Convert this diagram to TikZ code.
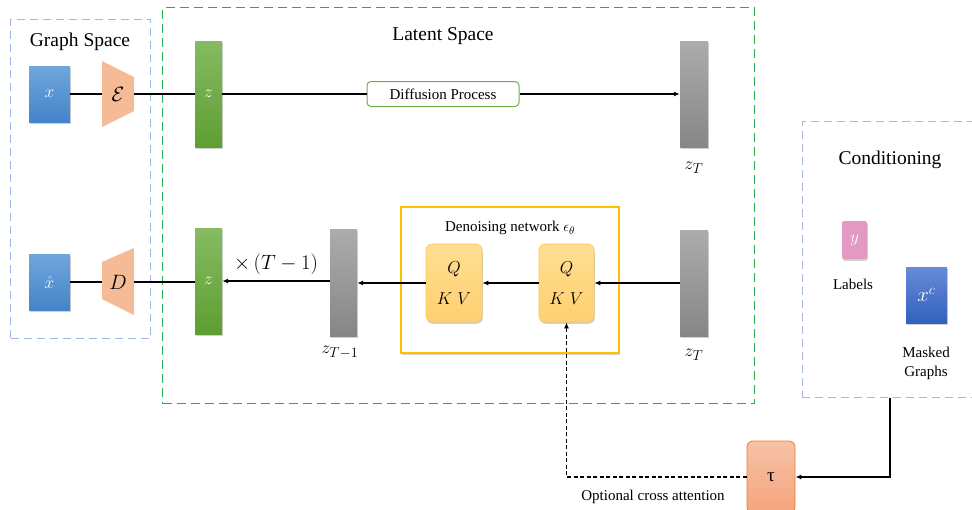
\documentclass[tikz,border=0pt]{standalone}
\usepackage{fontspec}
\setmainfont{Liberation Serif}
\usetikzlibrary{arrows.meta,shadows,calc}

\definecolor{bluetop}{RGB}{112,166,222}
\definecolor{bluebot}{RGB}{68,132,200}
\definecolor{greentop}{RGB}{134,187,98}
\definecolor{greenbot}{RGB}{94,158,50}
\definecolor{graytop}{RGB}{172,172,172}
\definecolor{graybot}{RGB}{134,134,134}
\definecolor{peach}{RGB}{244,187,150}
\definecolor{spaceblue}{RGB}{158,184,232}
\definecolor{condblue}{RGB}{170,184,222}
\definecolor{latgreen}{RGB}{34,176,76}
\definecolor{diffgreen}{RGB}{112,173,71}
\definecolor{dnyellow}{RGB}{255,192,0}
\definecolor{qtop}{RGB}{255,222,146}
\definecolor{qbot}{RGB}{255,208,112}
\definecolor{qedge}{RGB}{255,200,70}
\definecolor{pinky}{RGB}{226,154,194}
\definecolor{xctop}{RGB}{102,140,214}
\definecolor{xcbot}{RGB}{50,96,190}
\definecolor{tautop}{RGB}{246,194,166}
\definecolor{taubot}{RGB}{244,164,124}
\definecolor{tauedge}{RGB}{237,125,49}

\tikzset{
  shade/.style={drop shadow={shadow xshift=0.8pt,shadow yshift=-1.8pt,opacity=0.3,fill=black!60}},
  block/.style={shade,inner sep=0pt,text=white,font=\fontsize{19}{19}\selectfont},
  inbox/.style={block,minimum width=41pt,minimum height=56pt,top color=bluetop,bottom color=bluebot},
  zbar/.style={block,minimum width=27pt,minimum height=106pt,top color=greentop,bottom color=greenbot},
  gbar/.style={block,minimum width=28pt,minimum height=106pt,top color=graytop,bottom color=graybot},
  coder/.style={inner sep=0pt,minimum width=32pt,minimum height=34pt,font=\fontsize{20}{20}\selectfont},
  qkv/.style={shade,draw=qedge,line width=0.6pt,rounded corners=6pt,top color=qtop,bottom color=qbot,
    minimum height=78pt,align=center,inner sep=0pt,font=\fontsize{19}{31}\selectfont},
  spacebox/.style={draw=spaceblue,line width=1pt,dash pattern=on 8pt off 5pt,inner sep=0pt},
  heading/.style={font=\fontsize{19.5}{19.5}\selectfont},
  small/.style={font=\fontsize{15}{15}\selectfont},
  mlabel/.style={font=\fontsize{19}{19}\selectfont},
  wire/.style={line width=1.3pt,black},
  arr/.style={wire,-{Latex[length=6pt,width=5pt]}},
}

\begin{document}
\begin{tikzpicture}[x=1pt,y=-1pt]
\useasboundingbox (0,0) rectangle (972,509);
\clip (0,0) rectangle (972,509);

% region frames
\node[spacebox,minimum width=140pt,minimum height=319pt] (graph) at (80.5,178.5) {};
\node[draw=latgreen,line width=1pt,dash pattern=on 9pt off 5pt,inner sep=0pt,
      minimum width=592pt,minimum height=396pt] (latent) at (458.5,205.5) {};
\node[draw=condblue,line width=1pt,dash pattern=on 8pt off 5pt,inner sep=0pt,
      minimum width=176pt,minimum height=276pt] (cond) at (890,259.5) {};

\node[heading] (gtitle) at (80,42) {Graph Space};
\node[heading] (ltitle) at (443,36) {Latent Space};
\node[heading] (ctitle) at (890,160) {Conditioning};

% encoder / decoder trapezoids
\fill[peach] (102,61) -- (134,77) -- (134,111) -- (102,127) -- cycle;
\fill[peach] (102,262) -- (134,248) -- (134,315) -- (102,299) -- cycle;

% top row: encoding and forward diffusion
\node[inbox] (xin) at (49.5,94) {$x$};
\node[coder] (enc) at (118,94) {$\mathcal{E}$};
\node[zbar] (z1) at (208.5,94) {$z$};
\node[draw=diffgreen,line width=1pt,rounded corners=4pt,fill=white,small,
      minimum width=152pt,minimum height=25pt,inner sep=0pt] (diff) at (443,94) {Diffusion Process};
\node[gbar] (zT1) at (694,94) {};
\node[mlabel] (zT1lab) at (694,168) {$z_T$};

\draw[wire] (xin) -- (enc);
\draw[wire] (enc) -- (z1);
\draw[wire] (z1) -- (diff);
\draw[arr] (diff) -- (zT1);

% bottom row: denoising and decoding
\node[inbox] (xhat) at (49.5,282) {$\hat{x}$};
\node[coder] (dec) at (118,282) {$D$};
\node[zbar] (z2) at (208.5,281) {$z$};
\node[gbar,minimum width=27pt,minimum height=107pt] (zTm1) at (343.5,282.5) {};
\node[mlabel] (zTm1lab) at (340,352) {$z_{T-1}$};
\node[gbar] (zT2) at (694,283) {};
\node[mlabel] (zT2lab) at (694,355) {$z_T$};

\node[shade,draw=dnyellow,line width=1.6pt,fill=white,inner sep=0pt,
      minimum width=218pt,minimum height=146pt] (dn) at (510,280) {};
\node[small] (dntitle) at (510,228) {Denoising network $\epsilon_\theta$};
\node[qkv,minimum width=56pt] (q1) at (454,283) {$Q$\\$K\;V$};
\node[qkv,minimum width=55pt] (q2) at (566.5,283) {$Q$\\$K\;V$};

\draw[arr] (zT2) -- (q2);
\draw[arr] (q2) -- (q1);
\draw[arr] (q1.west) -- (q1.west -| zTm1.east);
\draw[arr] (zTm1.west |- z2) -- (z2) node[midway,above=2pt,font=\fontsize{20}{20}\selectfont] {$\times\,(T-1)$};
\draw[wire] (xhat) -- (dec);
\draw[wire] (dec) -- (dec -| z2.west);

% conditioning inputs
\node[block,minimum width=25pt,minimum height=38pt,fill=pinky,rounded corners=2pt] (ylab) at (854.5,240) {$y$};
\node[small] (labtext) at (853,284) {Labels};
\node[block,minimum width=41pt,minimum height=56pt,top color=xctop,bottom color=xcbot,
      font=\fontsize{20}{20}\selectfont] (xc) at (926.5,295) {$x^c$};
\node[small,align=center,font=\fontsize{15}{19}\selectfont] (mgtext) at (926,363) {Masked\\Graphs};

% conditioning encoder and cross attention
\node[draw=tauedge,line width=0.8pt,rounded corners=6pt,top color=tautop,bottom color=taubot,
      minimum width=48pt,minimum height=72pt,inner sep=0pt,font=\fontsize{19}{19}\selectfont] (tau) at (771,477) {τ};
\draw[arr] (cond.south) |- (tau.east);
\draw[arr,dash pattern=on 4pt off 2.5pt] (tau.west) -| (q2.south);
\node[small] (octext) at (653,497) {Optional cross attention};
\end{tikzpicture}
\end{document}
